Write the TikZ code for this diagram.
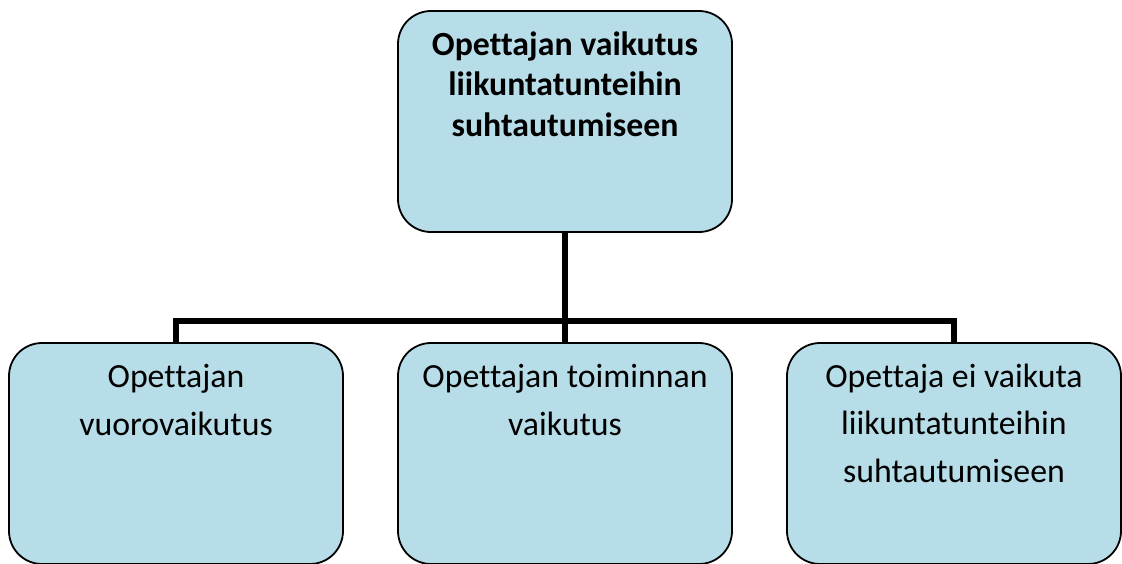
\documentclass[tikz,border=0pt]{standalone}
\usepackage{fontspec}
\setmainfont{Carlito}[Ligatures=NoCommon]
\definecolor{boxfill}{HTML}{B7DEE8}
\begin{document}
\begin{tikzpicture}[x=1pt,y=-1pt,
  box/.style={draw=black, line width=1.8pt, fill=boxfill, rounded corners=33pt,
    minimum width=334pt, minimum height=221pt, inner sep=0pt},
  headtext/.style={align=center, inner sep=0pt, anchor=base,
    font=\fontsize{33.8}{40.5}\selectfont\bfseries},
  bodytext/.style={align=center, inner sep=0pt, anchor=base,
    font=\fontsize{33.8}{47.5}\selectfont},
  conn/.style={draw=black, line width=6pt}]
  \useasboundingbox (0,0) rectangle (1122,563);
  \clip (0,0) rectangle (1122,563);

  % boxes
  \node[box] (top) at (565,121.5) {};
  \node[box] (left) at (176,453.5) {};
  \node[box] (mid) at (565,453.5) {};
  \node[box] (right) at (954,453.5) {};

  % connectors
  \coordinate (hub) at (565,321);
  \draw[conn] (top.south) -- (hub);
  \draw[conn] (left.north) -- (left.north |- hub) -- (right.north |- hub) -- (right.north);
  \draw[conn] (hub) -- (mid.north);

  % texts (anchored at the baseline of the last line)
  \node[headtext] (toptxt) at (565,136) {Opettajan vaikutus\\liikuntatunteihin\\suhtautumiseen};
  \node[bodytext] (lefttxt) at (176,435) {Opettajan\\vuorovaikutus};
  \node[bodytext] (midtxt) at (565,435) {Opettajan toiminnan\\vaikutus};
  \node[bodytext] (righttxt) at (954,482) {Opettaja ei vaikuta\\liikuntatunteihin\\suhtautumiseen};
\end{tikzpicture}
\end{document}
